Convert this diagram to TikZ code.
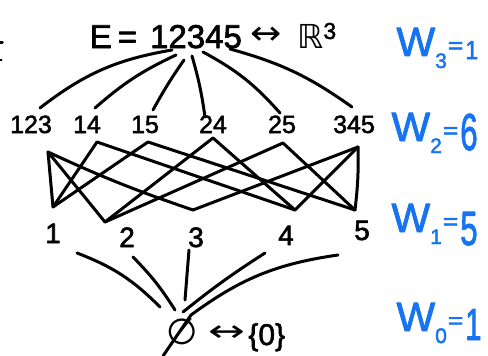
\documentclass[tikz,border=0pt]{standalone}
\usepackage{fontspec}
\setmainfont{Liberation Sans}
\newfontfamily\sym{DejaVu Sans}
\newfontfamily\inkfont[FakeBold=2]{Liberation Sans}
\usetikzlibrary{calc}
\definecolor{inkblue}{RGB}{22,116,240}
\newcommand\fs[1]{\fontsize{#1}{#1}\selectfont}
\newcommand\wlab[5]{{\fs{41}W}\raisebox{-12pt}{\fs{21}#1}\kern1pt\raisebox{3pt}{\scalebox{1.2}[1]{\fs{22}=}}\kern2pt\raisebox{#4}{\scalebox{#5}[1]{\fs{#3}#2}}}
\begin{document}
\begin{tikzpicture}[x=1pt,y=-1pt,line width=3pt,line cap=round,line join=round,
  lab/.style={inner sep=0pt,anchor=base},
  r2/.style={lab,font=\inkfont\fs{25}},
  r1/.style={lab,font=\inkfont\fs{28}},
  wl/.style={inner sep=0pt,anchor=base west,text=inkblue,font=\inkfont},
  edge/.style={draw=black}]
\useasboundingbox (0,0) rectangle (488,356);
\fill[white] (0,0) rectangle (488,356);
% stray marks at left edge
\draw[line width=2.5pt] (0,42.5) -- (2.5,42.5);
\draw[line width=2pt] (0,60) -- (1.5,60);

% top element
\node[lab,font=\inkfont\fs{33}] (e) at (196,48) {12345};
\node[lab,font=\inkfont\fs{33},anchor=base east] (eq) at ([xshift=-10pt]e.base west) {E\kern6pt=};
\node[lab,anchor=base west] (arr) at ([xshift=6pt,yshift=4pt]e.base east) {\scalebox{1.7}[1.5]{\sym\fs{22}↔}};
\node[lab,font=\fs{33},anchor=base west] (rr) at ([xshift=12pt,yshift=-4pt]arr.base east) {{\sym ℝ}\textsuperscript{\inkfont 3}};

% rank 2
\node[r2] (n123) at (31,133) {123};
\node[r2] (n14) at (87,133) {14};
\node[r2] (n15) at (145,133) {15};
\node[r2] (n24) at (213,133) {24};
\node[r2] (n25) at (282,133) {25};
\node[r2] (n345) at (354,133) {345};

% rank 1
\node[r1] (n1) at (53,243) {1};
\node[r1] (n2) at (127,247) {2};
\node[r1] (n3) at (196,247) {3};
\node[r1] (n4) at (286,245) {4};
\node[r1] (n5) at (362,240) {5};

% bottom
\node[lab,font=\sym\fs{36},anchor=center] (z) at (182,332) {∅};
\node[lab,anchor=base west] (zr) at (207,345) {\raisebox{4pt}{\scalebox{2.2}[1.5]{\sym\fs{20}↔}}\kern3pt{\fs{30}\inkfont\{0\}}};

% weights
\node[wl] (w3) at (395,56) {\wlab{3}{1}{26}{-3pt}{0.9}};
\node[wl] (w2) at (390,141) {\wlab{2}{6}{52}{-9pt}{0.6}};
\node[wl] (w1) at (390,232) {\wlab{1}{5}{48}{-13pt}{0.65}};
\node[wl] (w0) at (395,331) {\wlab{0}{1}{45}{-9pt}{0.65}};

% connector ends
\coordinate (s123) at ([xshift=-24pt,yshift=-2pt]e.base);
\coordinate (s14)  at ([xshift=-20pt,yshift=-7pt]e.base);
\coordinate (s15)  at ([xshift=-12pt,yshift=-12pt]e.base);
\coordinate (s24)  at ([xshift=-4pt,yshift=-8pt]e.base);
\coordinate (s25)  at ([xshift=7pt,yshift=-4pt]e.base);
\coordinate (s345) at ([xshift=34pt,yshift=-1pt]e.base);

\coordinate (e123) at ([xshift=9pt,yshift=25pt]n123.base);
\coordinate (e14)  at ([xshift=8pt,yshift=25pt]n14.base);
\coordinate (e15)  at ([xshift=8pt,yshift=23pt]n15.base);
\coordinate (e24)  at ([xshift=-8pt,yshift=16pt]n24.base);
\coordinate (e25)  at ([xshift=-2pt,yshift=20pt]n25.base);
\coordinate (e345) at ([xshift=-2pt,yshift=26pt]n345.base);

\coordinate (b123) at ([xshift=17pt,yshift=-19pt]n123.base);
\coordinate (b14)  at ([xshift=10pt,yshift=-9pt]n14.base);
\coordinate (b15)  at ([xshift=3pt,yshift=-9pt]n15.base);
\coordinate (b24)  at ([xshift=0pt,yshift=-5pt]n24.base);
\coordinate (b25)  at ([xshift=1pt,yshift=-10pt]n25.base);
\coordinate (b345) at ([xshift=4pt,yshift=-14pt]n345.base);

\coordinate (t1) at ([xshift=0pt,yshift=36pt]n1.base);
\coordinate (t2) at ([xshift=-22pt,yshift=25pt]n2.base);
\coordinate (t3) at ([xshift=-3pt,yshift=37pt]n3.base);
\coordinate (t4) at ([xshift=9pt,yshift=35pt]n4.base);
\coordinate (t5) at ([xshift=-7pt,yshift=30pt]n5.base);

\coordinate (d1) at ([xshift=24pt,yshift=-10pt]n1.base);
\coordinate (d2) at ([xshift=6pt,yshift=-10pt]n2.base);
\coordinate (d3) at ([xshift=-7pt,yshift=-3pt]n3.base);
\coordinate (d4) at ([xshift=-21pt,yshift=-8pt]n4.base);
\coordinate (d5) at ([xshift=-24pt,yshift=-15pt]n5.base);

\coordinate (z1) at ([xshift=-22pt,yshift=25pt]z.center);
\coordinate (z2) at ([xshift=-7pt,yshift=22pt]z.center);
\coordinate (z3) at ([xshift=3pt,yshift=32pt]z.center);
\coordinate (z4) at ([xshift=1pt,yshift=20pt]z.center);
\coordinate (z5) at ([xshift=9pt,yshift=17pt]z.center);
\coordinate (zend) at (163,356);

% top edges
\draw[edge] (s123) to[bend right=14] (e123);
\draw[edge] (s14) to[bend right=8] (e14);
\draw[edge] (s15) to[bend right=3] (e15);
\draw[edge] (s24) to[bend left=4] (e24);
\draw[edge] (s25) to[bend left=10] (e25);
\draw[edge] (s345) to[bend left=10] (e345);

% middle edges
\draw[edge] (b123) -- (t1);
\draw[edge] (b123) -- (t2);
\draw[edge] (b123) to[bend right=3] (t3);
\draw[edge] (b14) -- (t1);
\draw[edge] (b14) -- (t4);
\draw[edge] (b15) -- (t1);
\draw[edge] (b15) -- (t5);
\draw[edge] (b24) -- (t2);
\draw[edge] (b24) -- (t4);
\draw[edge] (b25) -- (t2);
\draw[edge] (b25) -- (t5);
\draw[edge] (b345) -- (t3);
\draw[edge] (b345) -- (t4);
\draw[edge] (b345) to[bend left=4] (t5);

% bottom edges
\draw[edge] (d1) to[bend left=12] (z1);
\draw[edge] (d2) to[bend left=6] (z2);
\draw[edge] (d3) -- (z3);
\draw[edge] (d4) to[bend right=3] (z4);
\draw[edge] (d5) to[bend right=14] (z5) -- (zend);
\end{tikzpicture}
\end{document}
